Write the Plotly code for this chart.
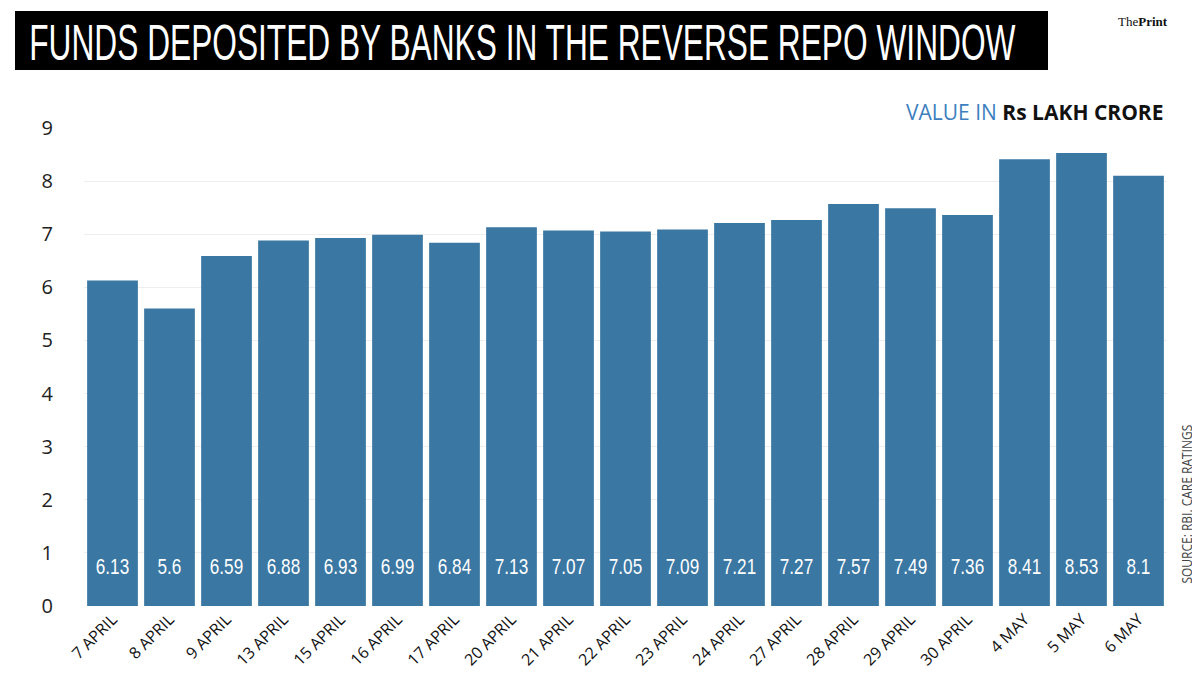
import plotly.graph_objects as go

dates = ["7 APRIL", "8 APRIL", "9 APRIL", "13 APRIL", "15 APRIL", "16 APRIL", "17 APRIL",
         "20 APRIL", "21 APRIL", "22 APRIL", "23 APRIL", "24 APRIL", "27 APRIL", "28 APRIL",
         "29 APRIL", "30 APRIL", "4 MAY", "5 MAY", "6 MAY"]
values = [6.13, 5.6, 6.59, 6.88, 6.93, 6.99, 6.84, 7.13, 7.07, 7.05, 7.09, 7.21, 7.27, 7.57,
          7.49, 7.36, 8.41, 8.53, 8.1]
value_labels = ["6.13", "5.6", "6.59", "6.88", "6.93", "6.99", "6.84", "7.13", "7.07", "7.05",
                "7.09", "7.21", "7.27", "7.57", "7.49", "7.36", "8.41", "8.53", "8.1"]
y_ticks = [0, 1, 2, 3, 4, 5, 6, 7, 8, 9]
label_level = 0.7  # height (in axis units) at which the value labels sit inside the bars

fig = go.Figure()
fig.add_trace(go.Bar(
    x=dates, y=values,
    marker=dict(color="#3a77a2", line=dict(width=0)),
    hoverinfo="x+y",
))
fig.add_trace(go.Scatter(
    x=dates, y=[label_level] * len(dates), mode="text", text=value_labels,
    textposition="middle center",
    textfont=dict(family="Liberation Sans, Arial, sans-serif", size=22, color="white"),
    hoverinfo="skip",
))

# the page body adds an 8px offset; positions below are given in page pixels
W, H = 1200, 675
OFF = 8
L, T, R, B = 84 - OFF, 128 - OFF, 1200 - 1167 + OFF, 675 - 606 + OFF
PW, PH = W - L - R, H - T - B


def px(x):
    return (x - OFF - L) / PW


def py(y):
    return (H - B - (y - OFF)) / PH


post = """
var gd = document.getElementById('{plot_id}');
function condense(){
  gd.querySelectorAll('text.annotation-text').forEach(function(t){
    if (t.textContent.indexOf('FUNDS') === 0) {
      t.style.transform = 'none';
      var w = t.getBBox().width;
      t.style.transformBox = 'fill-box';
      t.style.transformOrigin = 'left center';
      t.style.transform = 'scaleX(' + (987 / w) + ')';
    }
    if (t.textContent.indexOf('SOURCE') === 0) {
      t.style.transformBox = 'fill-box';
      t.style.transformOrigin = 'center';
      t.style.transform = 'scaleX(0.8)';
    }
  });
  gd.querySelectorAll('g.textpoint text').forEach(function(t){
    t.style.transformBox = 'fill-box';
    t.style.transformOrigin = 'center';
    t.style.transform = 'scaleX(0.78)';
  });
}
condense();
gd.on('plotly_afterplot', condense);
"""

fig.update_layout(
    width=W, height=H,
    margin=dict(l=L, r=R, t=T, b=B, autoexpand=False),
    paper_bgcolor="white", plot_bgcolor="white",
    bargap=0.11, showlegend=False,
    xaxis=dict(range=[-0.5, len(dates) - 0.5], tickangle=-45,
               tickfont=dict(family="Open Sans, sans-serif", size=16, color="#111"),
               showgrid=False, showline=False, ticks="", automargin=False),
    yaxis=dict(range=[0, 9], tickvals=y_ticks, ticktext=[str(v) for v in y_ticks],
               tickfont=dict(family="Open Sans, sans-serif", size=20, color="#222"),
               showgrid=True, gridcolor="#eeeeee", gridwidth=1, zeroline=False, ticks="",
               ticklabelstandoff=30, automargin=False),
    shapes=[dict(type="rect", xref="paper", yref="paper",
                 x0=px(15), x1=px(1048), y0=py(70), y1=py(11),
                 fillcolor="black", line=dict(width=0))],
    annotations=[
        dict(text="FUNDS DEPOSITED BY BANKS IN THE REVERSE REPO WINDOW", xref="paper", yref="paper",
             x=px(27), y=py(43), xanchor="left", yanchor="middle", showarrow=False,
             font=dict(family="Liberation Sans, Arial, sans-serif", size=50, color="white")),
        dict(text="The<b>Print</b>", xref="paper", yref="paper",
             x=px(1170), y=py(22), xanchor="right", yanchor="middle", showarrow=False,
             font=dict(family="Liberation Serif, serif", size=13, color="#111")),
        dict(text="<span style='color:#3d7fbf'>VALUE IN </span><b>Rs LAKH CRORE</b>", xref="paper", yref="paper",
             x=px(1166), y=py(112), xanchor="right", yanchor="middle", showarrow=False,
             font=dict(family="Open Sans, sans-serif", size=21, color="#111")),
        dict(text="SOURCE: RBI, CARE RATINGS", xref="paper", yref="paper",
             x=px(1186), y=py(606), xanchor="center", yanchor="bottom", textangle=-90, showarrow=False,
             font=dict(family="Open Sans, sans-serif", size=15, color="#444")),
    ],
)

fig.write_html("out.html", post_script=post)
